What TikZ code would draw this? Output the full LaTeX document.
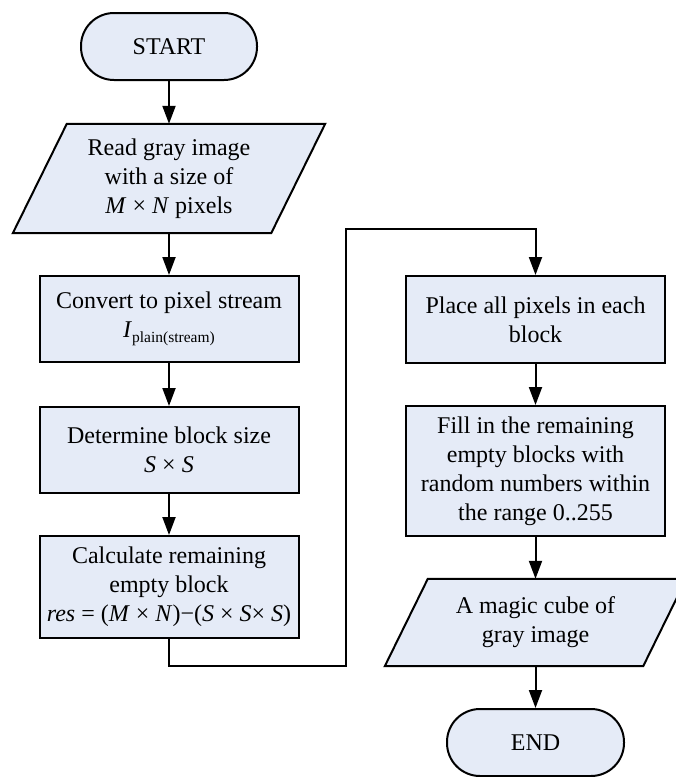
\documentclass[tikz,border=0pt]{standalone}
\usepackage{fontspec}
\setmainfont{Liberation Serif}
\usetikzlibrary{arrows.meta}
\pgfdeclarelayer{bg}
\pgfsetlayers{bg,main}
\definecolor{boxfill}{RGB}{229,235,247}
\newcommand{\subtext}[1]{\raisebox{-5pt}{\fontsize{15.5}{15.5}\selectfont #1}}

\begin{document}
\begin{tikzpicture}[x=1pt,y=-1pt,
  every node/.style={font=\fontsize{24}{29}\selectfont, align=center, inner sep=0pt},
  procbox/.style={draw, fill=boxfill, line width=2pt, minimum width=259pt},
  termbox/.style={draw, fill=boxfill, line width=2pt, rounded corners=33pt,
                  minimum width=176pt, minimum height=67pt},
  iobox/.style={minimum width=258pt},
  ioshape/.style={draw, fill=boxfill, line width=2pt},
  flow/.style={line width=2pt, -{Triangle[width=13pt,length=18pt]}}]

\useasboundingbox (0,0) rectangle (676,777);

% left column
\node[termbox] (start) at (169,46.5) {START};
\node[iobox, minimum height=109pt] (read) at (169,178.5)
  {Read gray image\\with a size of\\\textit{M} × \textit{N} pixels};
\node[procbox, minimum height=86pt] (conv) at (169,319)
  {Convert to pixel stream\\\textit{I}\subtext{plain(stream)}};
\node[procbox, minimum height=86pt] (det) at (169,450)
  {Determine block size\\\textit{S} × \textit{S}};
\node[procbox, minimum height=102pt] (calc) at (169,587)
  {Calculate remaining\\empty block\\\textit{res} = (\textit{M} × \textit{N})−(\textit{S} × \textit{S}× \textit{S})};

% right column
\node[procbox, minimum height=87pt] (place) at (535.5,319.5)
  {Place all pixels in each\\block};
\node[procbox, minimum height=130pt] (fill) at (535.5,471)
  {Fill in the remaining\\empty blocks with\\random numbers within\\the range 0..255};
\node[iobox, minimum height=87pt] (out) at (535.5,622.5)
  {A magic cube of\\gray image};
\node[termbox, minimum width=177pt] (end) at (535.5,742.5) {END};

% slanted input/output outlines behind their texts
\begin{pgfonlayer}{bg}
  \draw[ioshape] ([xshift=27pt]read.north west) -- ([xshift=27pt]read.north east)
    -- ([xshift=-27pt]read.south east) -- ([xshift=-27pt]read.south west) -- cycle;
  \draw[ioshape] ([xshift=21.5pt]out.north west) -- ([xshift=21.5pt]out.north east)
    -- ([xshift=-21.5pt]out.south east) -- ([xshift=-21.5pt]out.south west) -- cycle;
\end{pgfonlayer}

% connectors
\coordinate (low) at (346,666);
\coordinate (high) at (346,229);
\draw[flow] (start) -- (read);
\draw[flow] (read) -- (conv);
\draw[flow] (conv) -- (det);
\draw[flow] (det) -- (calc);
\draw[flow] (calc.south) |- (low) -- (high) -| (place.north);
\draw[flow] (place) -- (fill);
\draw[flow] (fill) -- (out);
\draw[flow] (out) -- (end);
\end{tikzpicture}
\end{document}
